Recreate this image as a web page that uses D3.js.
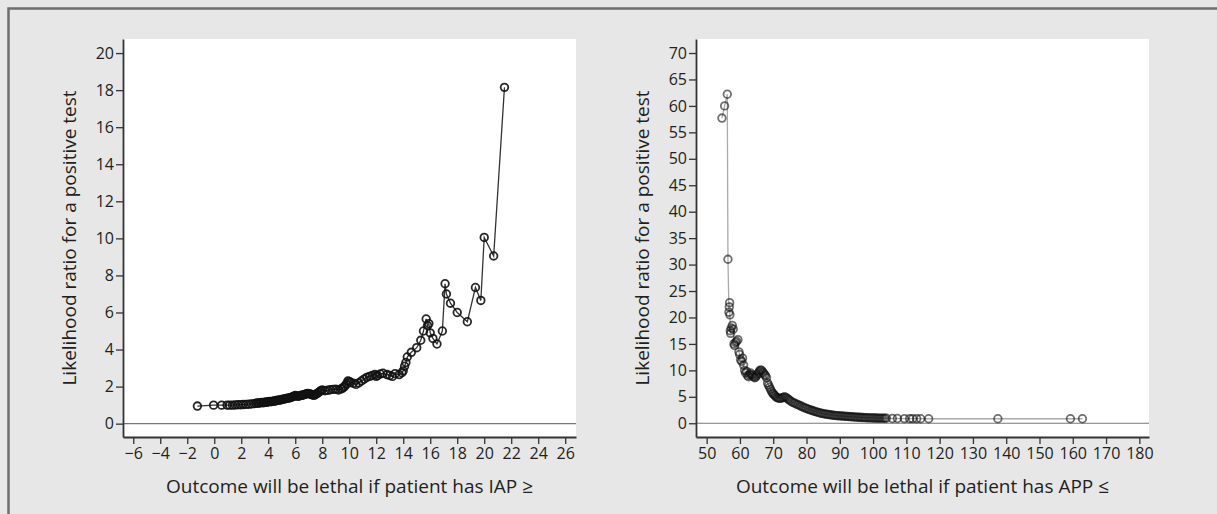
<!DOCTYPE html>
<html>
<head>
<meta charset="utf-8">
<script src="https://cdn.jsdelivr.net/npm/d3@7.9.0/dist/d3.min.js"></script>
<style>
  body { margin: 0; background: #fff; }
  svg { display: block; font-family: "Open Sans", "Noto Sans", sans-serif; }
</style>
</head>
<body>
<svg id="chart" width="1217" height="514"></svg>
<script>
// left panel: IAP threshold vs LR+
const iapX = [-1.25, -0.05, 0.55, 0.95, 1.15, 1.35, 1.55, 1.75, 1.95, 2.15, 2.35, 2.55, 2.75, 2.95, 3.1, 3.2, 3.3, 3.4, 3.5, 3.6, 3.7, 3.8, 3.9, 4.0, 4.1, 4.2, 4.3, 4.4, 4.5, 4.6, 4.7, 4.8, 4.9, 5.0, 5.1, 5.2, 5.3, 5.4, 5.5, 5.6, 5.7, 5.8, 5.9, 6.0, 6.1, 6.2, 6.3, 6.4, 6.5, 6.6, 6.7, 6.8, 6.9, 7.0, 7.1, 7.2, 7.3, 7.4, 7.5, 7.6, 7.7, 7.8, 7.9, 8.0, 8.2, 8.4, 8.6, 8.8, 9.0, 9.2, 9.4, 9.5, 9.6, 9.7, 9.8, 9.9, 10.0, 10.1, 10.3, 10.5, 10.7, 10.9, 11.1, 11.3, 11.5, 11.7, 11.9, 12.0, 12.1, 12.3, 12.5, 12.8, 13.0, 13.2, 13.4, 13.7, 13.9, 14.0, 14.1, 14.2, 14.3, 14.6, 15.0, 15.3, 15.5, 15.7, 15.8, 15.9, 16.0, 16.2, 16.5, 16.9, 17.1, 17.2, 17.5, 18.0, 18.75, 19.35, 19.75, 20.0, 20.7, 21.5];
const iapLR = [0.95, 1.0, 1.0, 1.0, 1.0, 1.0, 1.01, 1.02, 1.02, 1.03, 1.04, 1.05, 1.06, 1.08, 1.1, 1.12, 1.1, 1.13, 1.15, 1.12, 1.15, 1.17, 1.15, 1.18, 1.2, 1.18, 1.2, 1.22, 1.22, 1.25, 1.26, 1.27, 1.28, 1.3, 1.32, 1.33, 1.35, 1.37, 1.38, 1.4, 1.42, 1.45, 1.48, 1.52, 1.5, 1.47, 1.5, 1.52, 1.53, 1.55, 1.58, 1.6, 1.63, 1.62, 1.6, 1.57, 1.55, 1.53, 1.58, 1.62, 1.67, 1.72, 1.78, 1.82, 1.78, 1.8, 1.83, 1.85, 1.86, 1.82, 1.87, 1.92, 1.97, 2.05, 2.15, 2.3, 2.28, 2.22, 2.18, 2.12, 2.2, 2.3, 2.4, 2.5, 2.55, 2.6, 2.65, 2.55, 2.6, 2.68, 2.72, 2.65, 2.6, 2.55, 2.7, 2.65, 2.75, 2.85, 3.1, 3.3, 3.6, 3.85, 4.1, 4.5, 5.0, 5.65, 5.3, 5.4, 4.9, 4.6, 4.3, 5.0, 7.55, 7.0, 6.5, 6.0, 5.5, 7.35, 6.65, 10.05, 9.05, 18.15];
const iapXTicks = d3.range(-6, 27, 2);
const iapYTicks = d3.range(0, 21, 2);

// right panel: APP threshold vs LR+
const appX = [54.6, 55.4, 56.2, 56.4, 56.7, 56.8, 56.9, 57.0, 57.1, 57.2, 57.4, 57.7, 58.0, 58.2, 58.4, 58.7, 59.0, 59.4, 59.7, 59.9, 60.2, 60.5, 60.8, 61.1, 61.4, 61.7, 62.0, 62.3, 62.6, 62.9, 63.2, 63.5, 63.8, 64.1, 64.4, 64.7, 65.0, 65.3, 65.6, 65.9, 66.2, 66.5, 66.8, 67.1, 67.4, 67.7, 68.0, 68.3, 68.6, 68.9, 69.2, 69.5, 69.8, 70.1, 70.4, 70.7, 71.0, 71.4, 71.8, 72.2, 72.6, 73.0, 73.4, 73.8, 74.2, 74.6, 75.0, 75.5, 76.0, 76.5, 77.0, 77.5, 78.0, 78.5, 79.0, 79.5, 80.0, 80.5, 81.0, 81.5, 82.0, 82.5, 83.0, 83.5, 84.0, 84.5, 85.0, 85.5, 86.0, 86.5, 87.0, 87.5, 88.0, 88.5, 89.0, 89.5, 90.0, 90.5, 91.0, 91.5, 92.0, 92.5, 93.0, 93.5, 94.0, 94.5, 95.0, 95.5, 96.0, 96.5, 97.0, 97.5, 98.0, 98.5, 99.0, 99.5, 100.0, 100.5, 101.0, 101.5, 102.0, 102.5, 103.0, 103.5, 104.0, 105.8, 107.3, 109.4, 111.0, 111.9, 113.1, 114.3, 116.7, 137.5, 159.3, 162.9];
const appLR = [57.7, 60.0, 62.2, 31.0, 21.0, 22.0, 22.8, 20.5, 17.5, 17.0, 18.0, 18.5, 17.8, 15.0, 14.7, 15.3, 15.5, 15.8, 13.5, 13.0, 12.0, 11.7, 12.3, 11.0, 10.0, 9.5, 9.8, 9.0, 8.8, 9.2, 9.5, 9.2, 9.0, 8.8, 8.6, 8.7, 9.0, 9.3, 9.6, 9.9, 10.1, 10.0, 9.7, 9.5, 9.2, 9.0, 8.6, 7.6, 7.2, 6.8, 6.4, 6.0, 5.7, 5.5, 5.3, 5.1, 4.9, 4.8, 4.7, 4.7, 4.8, 4.9, 5.0, 4.9, 4.7, 4.5, 4.3, 4.1, 3.9, 3.8, 3.6, 3.5, 3.35, 3.2, 3.05, 2.9, 2.8, 2.65, 2.55, 2.45, 2.35, 2.25, 2.15, 2.05, 1.95, 1.9, 1.82, 1.75, 1.7, 1.65, 1.6, 1.55, 1.52, 1.48, 1.45, 1.42, 1.4, 1.37, 1.35, 1.32, 1.3, 1.28, 1.25, 1.22, 1.2, 1.18, 1.15, 1.13, 1.12, 1.1, 1.08, 1.06, 1.05, 1.04, 1.02, 1.01, 1.0, 0.99, 0.98, 0.97, 0.97, 0.96, 0.96, 0.95, 0.95, 0.9, 0.9, 0.88, 0.87, 0.87, 0.86, 0.86, 0.85, 0.85, 0.85, 0.85];
const appXTicks = d3.range(50, 181, 10);
const appYTicks = d3.range(0, 71, 5);

const yTitle = 'Likelihood ratio for a positive test';
const iapTitle = 'Outcome will be lethal if patient has IAP ≥';
const appTitle = 'Outcome will be lethal if patient has APP ≤';

const svg = d3.select('#chart');

// grey figure background with a frame on top and left
svg.append('rect').attr('width', 1217).attr('height', 514).attr('fill', '#e6e7e6');
svg.append('path')
  .attr('d', 'M8.5,514V8.5H1217')
  .attr('fill', 'none')
  .attr('stroke', '#6d6e70')
  .attr('stroke-width', 2.5);

function panel(opts) {
  const { left, right, top, bottom, xDomain, yDomain, xs, ys, xTicks, yTicks, xLabel, lineColor, dotColor, dotOpacity } = opts;

  const x = d3.scaleLinear().domain(xDomain).range([left, right]);
  const y = d3.scaleLinear().domain(yDomain).range([bottom, top]);

  svg.append('rect')
    .attr('x', left).attr('y', top)
    .attr('width', right - left).attr('height', bottom - top)
    .attr('fill', '#fff');

  // reference line at 0
  svg.append('line')
    .attr('x1', left).attr('x2', right)
    .attr('y1', y(0)).attr('y2', y(0))
    .attr('stroke', '#777').attr('stroke-width', 1.2);

  const xAxis = svg.append('g')
    .attr('transform', `translate(0,${bottom})`)
    .call(d3.axisBottom(x).tickValues(xTicks).tickSize(7).tickPadding(4).tickSizeOuter(0));
  const yAxis = svg.append('g')
    .attr('transform', `translate(${left},0)`)
    .call(d3.axisLeft(y).tickValues(yTicks).tickSize(7).tickPadding(2).tickSizeOuter(0));

  [xAxis, yAxis].forEach(g => {
    g.select('.domain').attr('stroke', '#333').attr('stroke-width', 1.8);
    g.selectAll('.tick line').attr('stroke', '#333').attr('stroke-width', 1.3);
    g.selectAll('.tick text')
      .attr('fill', '#231f20')
      .style('font-size', '16px')
      .style('font-family', '"Open Sans", sans-serif');
  });

  svg.append('text')
    .attr('x', (left + right) / 2)
    .attr('y', bottom + 56)
    .attr('text-anchor', 'middle')
    .attr('fill', '#231f20')
    .style('font-size', '19px')
    .text(xLabel);

  svg.append('text')
    .attr('transform', `translate(${left - 52},${(top + bottom) / 2}) rotate(-90)`)
    .attr('text-anchor', 'middle')
    .attr('dominant-baseline', 'middle')
    .attr('fill', '#231f20')
    .style('font-size', '19px')
    .text(yTitle);

  const pts = xs.map((v, i) => [v, ys[i]]);

  svg.append('path')
    .datum(pts)
    .attr('d', d3.line().x(d => x(d[0])).y(d => y(d[1])))
    .attr('fill', 'none')
    .attr('stroke', lineColor)
    .attr('stroke-width', 1.3);

  svg.append('g')
    .selectAll('circle')
    .data(pts)
    .join('circle')
    .attr('cx', d => x(d[0]))
    .attr('cy', d => y(d[1]))
    .attr('r', 3.8)
    .attr('fill', 'none')
    .attr('stroke', dotColor)
    .attr('stroke-opacity', dotOpacity)
    .attr('stroke-width', 1.8);
}

panel({
  left: 123, right: 576, top: 39, bottom: 437,
  xDomain: [-6.76, 26.8], yDomain: [-0.72, 20.76],
  xs: iapX, ys: iapLR, xTicks: iapXTicks, yTicks: iapYTicks,
  xLabel: iapTitle, lineColor: '#333', dotColor: '#111', dotOpacity: 0.9
});

panel({
  left: 696, right: 1149, top: 39, bottom: 437,
  xDomain: [46.8, 182.9], yDomain: [-2.6, 72.65],
  xs: appX, ys: appLR, xTicks: appXTicks, yTicks: appYTicks,
  xLabel: appTitle, lineColor: '#aaa', dotColor: '#111', dotOpacity: 0.6
});
</script>
</body>
</html>
